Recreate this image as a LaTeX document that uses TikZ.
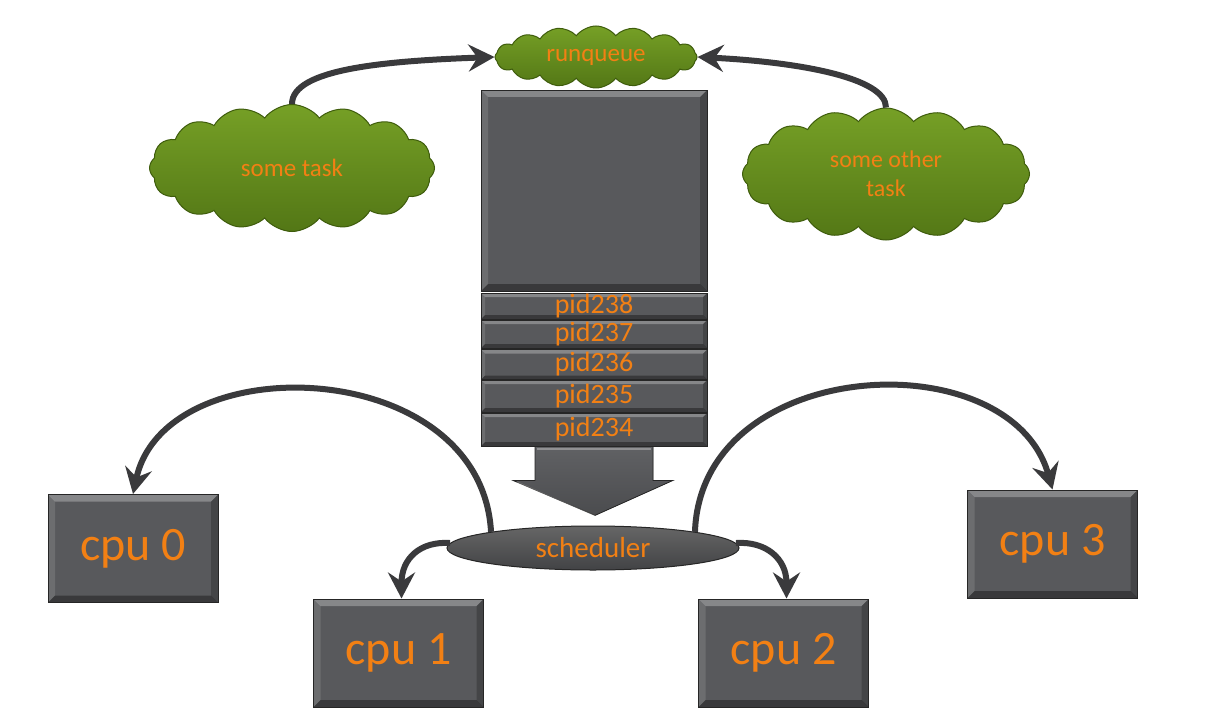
\documentclass[tikz,border=0pt]{standalone}
\usepackage{fontspec}
\setmainfont{Carlito}
\usetikzlibrary{shapes.geometric,shapes.symbols,arrows.meta,calc}
\definecolor{boxgray}{RGB}{88,89,92}
\definecolor{txtorange}{RGB}{242,128,20}
\definecolor{arrowgray}{RGB}{58,58,60}
\definecolor{cloudgreen}{RGB}{92,132,24}
\definecolor{cloudlight}{RGB}{118,160,38}
\definecolor{clouddark}{RGB}{62,92,12}
\begin{document}
\begin{tikzpicture}[x=1pt,y=-1pt,
  bevel/.style={path picture={
    \fill[white,opacity=0.28] (path picture bounding box.north west) -- (path picture bounding box.north east)
      -- ([xshift=-#1,yshift=-#1]path picture bounding box.north east) -- ([xshift=#1,yshift=-#1]path picture bounding box.north west) -- cycle;
    \fill[white,opacity=0.12] (path picture bounding box.north west) -- (path picture bounding box.south west)
      -- ([xshift=#1,yshift=#1]path picture bounding box.south west) -- ([xshift=#1,yshift=-#1]path picture bounding box.north west) -- cycle;
    \fill[black,opacity=0.35] (path picture bounding box.south west) -- (path picture bounding box.south east)
      -- ([xshift=-#1,yshift=#1]path picture bounding box.south east) -- ([xshift=#1,yshift=#1]path picture bounding box.south west) -- cycle;
    \fill[black,opacity=0.22] (path picture bounding box.north east) -- (path picture bounding box.south east)
      -- ([xshift=-#1,yshift=#1]path picture bounding box.south east) -- ([xshift=-#1,yshift=-#1]path picture bounding box.north east) -- cycle;
  }},
  cpubox/.style={draw=black!85, line width=1pt, fill=boxgray, minimum width=170, minimum height=108,
    inner sep=0, font=\fontsize{48}{56}\selectfont, text=txtorange, bevel=7pt},
  stackbox/.style={draw=black!85, line width=0.8pt, fill=boxgray, minimum width=226, inner sep=0, bevel=#1},
  pidrow/.style={stackbox=4pt, font=\fontsize{28}{28}\selectfont, text=txtorange},
  cloudnode/.style={cloud, cloud ignores aspect, cloud puff arc=105, draw=clouddark, line width=1pt,
    top color=cloudlight, bottom color=cloudgreen!90!black, inner sep=0, text=txtorange},
  conn/.style={draw=arrowgray, line width=6pt, -{Stealth[length=26pt,width=27pt,inset=9pt]}},
]
\fill[white] (0,0) rectangle (1225,722);
\useasboundingbox (0,0) rectangle (1225,722);

% clouds
\node[cloudnode, minimum width=202, minimum height=62, cloud puffs=16,
  font=\fontsize{25}{28}\selectfont] (rq) at (596,57) {runqueue};
\node[cloudnode, minimum width=285, minimum height=127, cloud puffs=16,
  font=\fontsize{25}{28}\selectfont] (t1) at (292,168) {some task};
\node[cloudnode, minimum width=287, minimum height=132, cloud puffs=16, align=center,
  font=\fontsize{24}{29}\selectfont] (t2) at (886,174) {some other\\task};

% run queue stack
\node[stackbox=7pt, minimum height=201] (stack) at (594,190.5) {};
\node[pidrow, minimum height=26] (r238) at (594,306) {pid238};
\node[pidrow, minimum height=28] (r237) at (594,334) {pid237};
\node[pidrow, minimum height=30] (r236) at (594,364.5) {pid236};
\node[pidrow, minimum height=32] (r235) at (594,396) {pid235};
\node[pidrow, minimum height=33] (r234) at (594,429.5) {pid234};

% block arrow down to the scheduler
\fill[top color=boxgray!95!white, bottom color=boxgray!85!black, draw=black!85, line width=0.8pt]
  ($(r234.south)+(-59,0)$) -- ($(r234.south)+(59,0)$) -- ($(r234.south)+(59,34)$)
  -- ($(r234.south)+(79,34)$) -- ($(r234.south)+(1,69)$) -- ($(r234.south)+(-81,34)$)
  -- ($(r234.south)+(-59,34)$) -- cycle;
\draw[white,opacity=0.3,line width=2pt] ($(r234.south)+(-57,3)$) -- ($(r234.south)+(57,3)$);
\draw[white,opacity=0.25,line width=2pt] ($(r234.south)+(-77,36)$) -- ($(r234.south)+(1,70)$);

% scheduler
\node[ellipse, draw=black!85, line width=1pt, top color=gray!80!black, bottom color=boxgray!75!black,
  minimum width=292, minimum height=44, inner sep=0, font=\fontsize{29}{32}\selectfont,
  text=txtorange] (sched) at (593,548) {scheduler};

% cpus
\node[cpubox] (c0) at (133,548.5) {cpu 0};
\node[cpubox] (c1) at (398.5,653) {cpu 1};
\node[cpubox] (c2) at (783.5,653) {cpu 2};
\node[cpubox] (c3) at (1052.5,544) {cpu 3};

% connectors
\draw[conn] (t1.north) .. controls +(0,-35) and +(-110,4) .. (rq.west);
\draw[conn] (t2.north) .. controls +(0,-30) and +(100,5) .. (rq.east);
\draw[conn] (sched.171) .. controls +(-10,-177) and +(32,-149) .. (c0.north);
\draw[conn] (sched.9) .. controls +(6,-177) and +(-42,-150) .. (c3.north);
\draw[conn] (sched.178) .. controls +(-30,-2) and +(0,-40) .. ([xshift=3pt]c1.north);
\draw[conn] (sched.2) .. controls +(30,-2) and +(0,-40) .. ([xshift=3pt]c2.north);
\end{tikzpicture}
\end{document}
